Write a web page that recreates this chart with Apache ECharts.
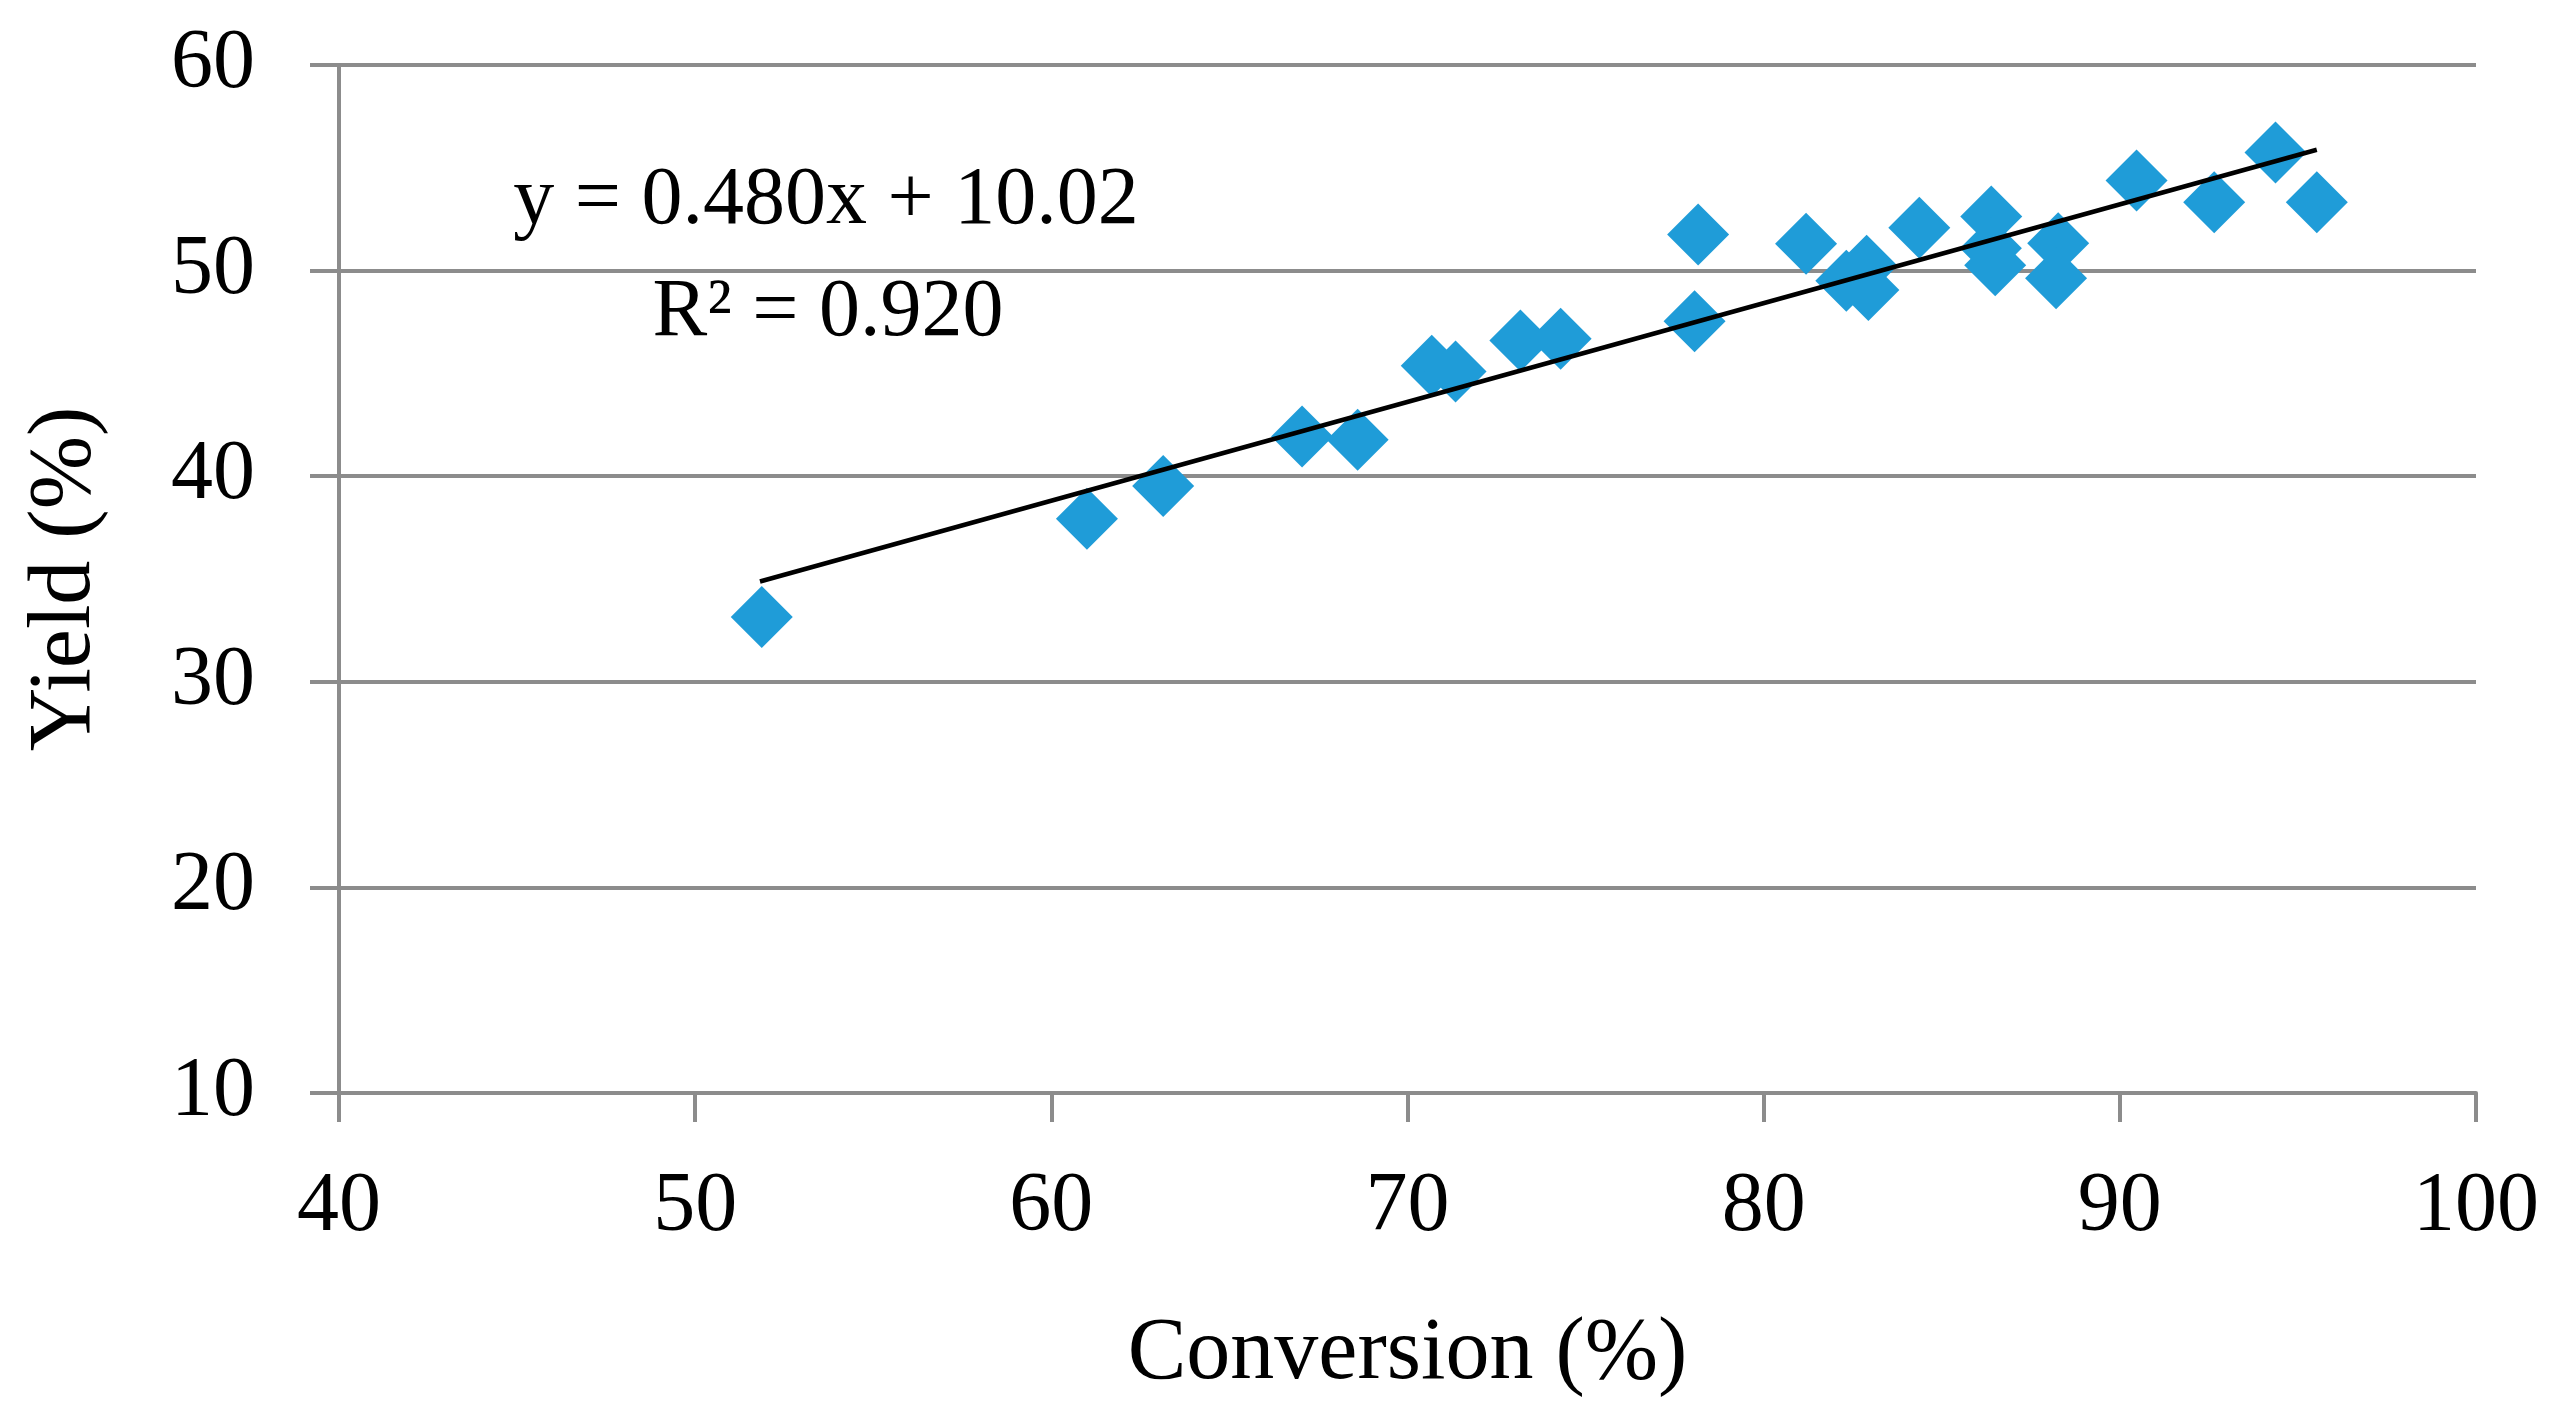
<!DOCTYPE html>
<html>
<head>
<meta charset="utf-8">
<script src="https://cdn.jsdelivr.net/npm/echarts@6/dist/echarts.min.js"></script>
<style>
html,body{margin:0;padding:0;background:#fff;}
#chart{width:2555px;height:1413px;}
</style>
</head>
<body>
<div id="chart"></div>
<script>
// Conversion (%) values
var conversion = [51.87, 61.0, 63.14, 67.04, 68.6, 70.68, 71.35, 73.17, 74.30, 78.06, 78.16, 81.19, 82.32, 82.89, 82.94, 84.37, 86.39, 86.38, 86.5, 88.27, 88.21, 90.47, 92.65, 94.37, 95.53];
// Yield (%) values
var yieldVals = [33.15, 37.93, 39.52, 41.93, 41.77, 45.37, 45.09, 46.6, 46.69, 47.54, 51.75, 51.31, 49.51, 50.24, 49.06, 52.08, 52.63, 51.09, 50.26, 51.33, 49.63, 54.38, 53.32, 55.74, 53.32];
// Trendline end points
var trendX = [51.82, 95.53];
var trendY = [34.88, 55.88];
var equationText = 'y = 0.480x + 10.02';
var r2Text = 'R\u00B2 = 0.920';
var xTicks = [40, 50, 60, 70, 80, 90, 100];
var yTicks = [10, 20, 30, 40, 50, 60];

var font = 'Liberation Serif';
var gridColor = '#8c8c8c';

var scatterData = conversion.map(function (x, i) { return [x, yieldVals[i]]; });
var trendData = trendX.map(function (x, i) { return [x, trendY[i]]; });

var chart = echarts.init(document.getElementById('chart'));
chart.setOption({
  backgroundColor: '#ffffff',
  animation: false,
  grid: { left: 339, right: 79, top: 65, bottom: 320 },
  xAxis: {
    type: 'value',
    min: xTicks[0], max: xTicks[xTicks.length - 1], interval: 10,
    name: 'Conversion (%)',
    nameLocation: 'middle',
    nameGap: 218,
    nameTextStyle: { fontFamily: font, fontSize: 88, color: '#000' },
    axisLine: { show: true, lineStyle: { color: gridColor, width: 4 } },
    axisTick: { show: true, length: 29, lineStyle: { color: gridColor, width: 4 } },
    axisLabel: { margin: 73, fontFamily: font, fontSize: 84, color: '#000' },
    splitLine: { show: false }
  },
  yAxis: {
    type: 'value',
    min: yTicks[0], max: yTicks[yTicks.length - 1], interval: 10,
    name: 'Yield (%)',
    nameLocation: 'middle',
    nameGap: 229,
    nameTextStyle: { fontFamily: font, fontSize: 88, color: '#000' },
    axisLine: { show: true, lineStyle: { color: gridColor, width: 4 } },
    axisTick: { show: true, length: 29, lineStyle: { color: gridColor, width: 4 } },
    axisLabel: { margin: 84, fontFamily: font, fontSize: 84, color: '#000' },
    splitLine: { show: true, lineStyle: { color: gridColor, width: 4 } }
  },
  series: [
    {
      type: 'scatter',
      data: scatterData,
      symbol: 'diamond',
      symbolSize: 62,
      itemStyle: { color: '#1f9cd8', opacity: 1 },
      z: 2
    },
    {
      type: 'line',
      data: trendData,
      symbol: 'none',
      lineStyle: { color: '#000', width: 4.5 },
      z: 3
    }
  ],
  graphic: [
    {
      type: 'text', z: 10,
      style: { text: equationText, x: 826, y: 201, textAlign: 'center', textVerticalAlign: 'middle', verticalAlign: 'middle', align: 'center', font: '82px "Liberation Serif"', fill: '#000' }
    },
    {
      type: 'text', z: 10,
      style: { text: r2Text, x: 828, y: 313, textAlign: 'center', textVerticalAlign: 'middle', verticalAlign: 'middle', align: 'center', font: '82px "Liberation Serif"', fill: '#000' }
    }
  ]
});
</script>
</body>
</html>
